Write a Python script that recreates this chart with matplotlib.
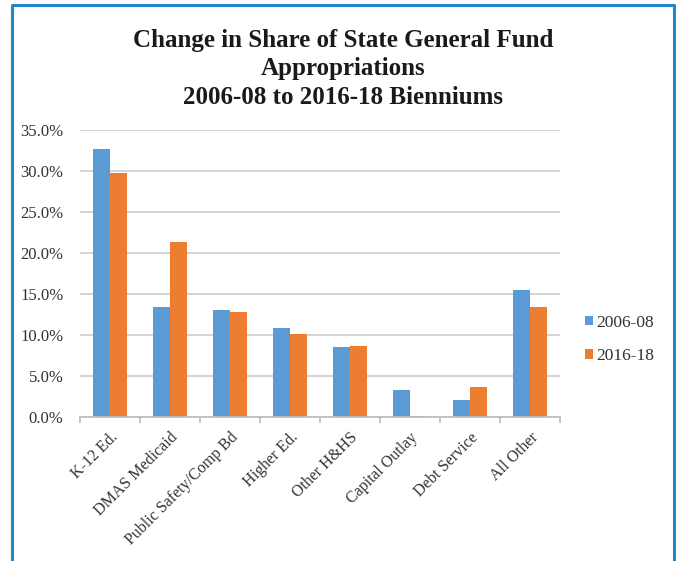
import matplotlib.pyplot as plt
import numpy as np
from matplotlib.ticker import FuncFormatter, MultipleLocator

CATEGORIES = ["K-12 Ed.", "DMAS Medicaid", "Public Safety/Comp Bd", "Higher Ed.",
              "Other H&HS", "Capital Outlay", "Debt Service", "All Other"]
SHARE_0608 = [32.7, 13.4, 13.1, 10.8, 8.5, 3.3, 2.1, 15.5]
SHARE_1618 = [29.7, 21.3, 12.8, 10.1, 8.7, 0.15, 3.7, 13.4]

BLUE = "#5b9bd5"
ORANGE = "#ed7d31"
FRAME = "#1f88cc"
TEXT = "#333333"

plt.rcParams["font.family"] = "Liberation Serif"

fig = plt.figure(figsize=(6.76, 5.61), dpi=100)
ax = fig.add_axes([80 / 676, 1 - 417 / 561, 480 / 676, 287 / 561])

x = np.arange(len(CATEGORIES))
width = 0.285
ax.bar(x - width / 2, SHARE_0608, width, color=BLUE, label="2006-08")
ax.bar(x + width / 2, SHARE_1618, width, color=ORANGE, label="2016-18")

ax.set_xlim(-0.5, len(CATEGORIES) - 0.5)
ax.set_ylim(0, 35)
ax.yaxis.set_major_locator(MultipleLocator(5))
ax.yaxis.set_major_formatter(FuncFormatter(lambda v, _: f"{v:.1f}%"))
ax.grid(axis="y", color="#d0d0d0", linewidth=1.3)
ax.set_axisbelow(True)
for side in ("top", "right", "left"):
    ax.spines[side].set_visible(False)
ax.spines["bottom"].set_color("#bfbfbf")
ax.spines["bottom"].set_linewidth(1.3)
ax.tick_params(axis="y", length=0, labelsize=12, colors=TEXT, pad=12)

# category labels, tick marks between categories
ax.set_xticks(x)
ax.set_xticklabels(CATEGORIES, rotation=45, ha="right", rotation_mode="anchor",
                   fontsize=11.5, color=TEXT)
ax.tick_params(axis="x", length=0, pad=9)
ax.set_xticks(np.arange(-0.5, len(CATEGORIES)), minor=True)
ax.tick_params(axis="x", which="minor", length=4, color="#bfbfbf", width=1.3)

ax.legend(loc="center left", bbox_to_anchor=(1.02, 0.27), frameon=False,
          fontsize=12.5, handlelength=0.45, handleheight=0.45, handletextpad=0.2,
          labelspacing=1.0, labelcolor=TEXT)

title_lines = ["Change in Share of State General Fund", "Appropriations",
               "2006-08 to 2016-18 Bienniums"]
for line, ypx in zip(title_lines, [40, 69, 98]):
    fig.text(0.5 + 5 / 676, 1 - ypx / 561, line, ha="center", va="center",
             fontsize=18, fontweight="bold", color="#1a1a1a")

# blue frame round the picture, open at the bottom
fig.add_artist(plt.Line2D([11.5 / 676, 11.5 / 676, 673.5 / 676, 673.5 / 676],
                          [0, 1 - 5 / 561, 1 - 5 / 561, 0],
                          transform=fig.transFigure, color=FRAME, linewidth=2.2))

fig.savefig("out.png", dpi=100)
